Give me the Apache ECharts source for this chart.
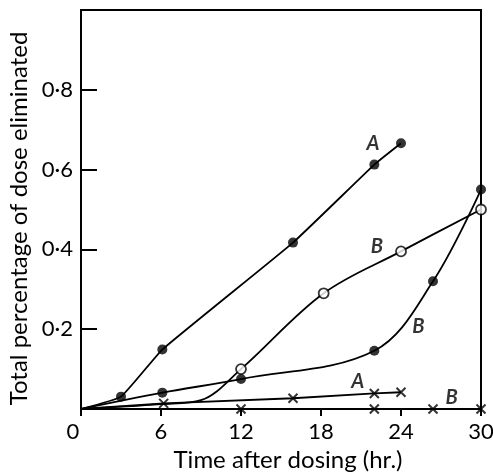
<!DOCTYPE html>
<html>
<head>
<meta charset="utf-8">
<script src="https://cdn.jsdelivr.net/npm/echarts@6.0.0/dist/echarts.min.js"></script>
<style>
	html, body { margin: 0; padding: 0; background: #fff; }
	#chart { width: 493px; height: 472px; }
</style>
</head>
<body>
<div id="chart"></div>
<script>
	// values (x = hours after dosing, y = fraction of dose)
	let xTicks = [0, 6, 12, 18, 24, 30];
	let yTicks = [0.2, 0.4, 0.6, 0.8];

	// curve A, filled circles
	let aDotsX = [3, 6.1, 15.9, 22, 24];
	let aDotsY = [0.031, 0.149, 0.417, 0.6125, 0.666];
	// curve B, open circles
	let bOpenX = [12, 18.2, 24, 30];
	let bOpenY = [0.10, 0.29, 0.395, 0.50];
	let bOpenLeadX = [0, 6, 9];			// unmarked start of the curve
	let bOpenLeadY = [0, 0.012, 0.022];
	// curve B, filled circles
	let bDotsX = [6.1, 12, 22, 26.4, 30];
	let bDotsY = [0.041, 0.075, 0.146, 0.32, 0.55];
	// curve A, crosses
	let aCrossX = [6.2, 15.9, 22, 24];
	let aCrossY = [0.014, 0.027, 0.039, 0.042];
	// curve B, crosses
	let bCrossX = [12, 22, 26.4, 30];
	let bCrossY = [0, 0, 0, 0];

	// curve letters, placed in data coordinates
	let labelText = ['A', 'B', 'B', 'A', 'B'];
	let labelX = [21.9, 22.2, 25.3, 20.75, 27.8];
	let labelY = [0.665, 0.406, 0.206, 0.068, 0.0275];

	let zip = function (pX, pY) {
		return pX.map(function (x, i) { return [x, pY[i]]; });
	};

	let font = 'Lato, "Open Sans", sans-serif';
	let crossPath = 'path://M0,0L10,10M10,0L0,10';

	let lineSeries = function (pData, pSmooth) {
		return {
			type: 'line', data: pData, symbol: 'none', smooth: pSmooth,
			lineStyle: { color: '#000', width: 1.8 }, z: 2, silent: true
		};
	};

	let markerSeries = function (pData, pSymbol, pSize, pItemStyle) {
		return {
			type: 'scatter', data: pData, symbol: pSymbol, symbolSize: pSize,
			itemStyle: pItemStyle, z: 3, silent: true
		};
	};

	let origin = [[0, 0]];
	let chart = echarts.init(document.getElementById('chart'), null, { renderer: 'canvas' });

	chart.setOption({
		animation: false,
		backgroundColor: '#fff',
		grid: {
			left: 81, right: 12, top: 10, bottom: 63, outerBoundsMode: 'none', containLabel: false,
			show: true, borderColor: '#000', borderWidth: 2
		},
		xAxis: {
			type: 'value', min: 0, max: 30, interval: 6,
			name: '{t|Time after dosing (hr.)}', nameLocation: 'middle', nameGap: 37,
			nameTextStyle: {
				fontFamily: font, fontSize: 24, color: '#000',
				rich: { t: { fontFamily: font, fontSize: 24, color: '#000', padding: [0, 0, 0, 14] } }
			},
			axisLine: { show: true, lineStyle: { color: '#000', width: 2 } },
			axisTick: { show: true, inside: false, length: 7, lineStyle: { color: '#000', width: 2 } },
			splitLine: { show: false },
			axisLabel: {
				margin: 12, fontFamily: font, fontSize: 22, color: '#000',
				formatter: function (v) { return xTicks.indexOf(v) === 0 ? '{o|0}' : String(v); },
				rich: { o: { fontFamily: font, fontSize: 22, color: '#000', padding: [0, 16, 0, 0] } }
			}
		},
		yAxis: {
			type: 'value', min: 0, max: 1, interval: 0.2,
			name: '{t|Total percentage of dose eliminated}', nameLocation: 'middle', nameGap: 46,
			nameTextStyle: {
				fontFamily: font, fontSize: 24, color: '#000',
				rich: { t: { fontFamily: font, fontSize: 24, color: '#000', padding: [0, 18, 0, 0] } }
			},
			axisLine: { show: true, lineStyle: { color: '#000', width: 2 } },
			axisTick: { show: true, inside: true, length: 16, lineStyle: { color: '#000', width: 2 } },
			splitLine: { show: false },
			axisLabel: {
				margin: 8, fontFamily: font, fontSize: 22, color: '#000',
				formatter: function (v) {
					let hit = yTicks.find(function (t) { return Math.abs(t - v) < 1e-6; });
					return hit === undefined ? '' : hit.toFixed(1).replace('.', '\u00b7');
				}
			}
		},
		series: [
			lineSeries(origin.concat(zip(aDotsX, aDotsY)), 0.12),
			lineSeries(zip(bOpenLeadX, bOpenLeadY).concat(zip(bOpenX, bOpenY)), 0.35),
			lineSeries(origin.concat(zip(bDotsX, bDotsY)), 0.35),
			lineSeries(origin.concat(zip(aCrossX, aCrossY)), 0),
			lineSeries(origin.concat(zip(bCrossX, bCrossY)), 0),
			markerSeries(zip(aDotsX, aDotsY), 'circle', 10, { color: '#000' }),
			markerSeries(zip(bDotsX, bDotsY), 'circle', 10, { color: '#000' }),
			markerSeries(zip(bOpenX, bOpenY), 'circle', 10, { color: '#fff', borderColor: '#000', borderWidth: 1.8 }),
			markerSeries(zip(aCrossX, aCrossY), crossPath, 9, { color: 'none', borderColor: '#000', borderWidth: 2 }),
			markerSeries(zip(bCrossX, bCrossY), crossPath, 9, { color: 'none', borderColor: '#000', borderWidth: 2 }),
			{
				type: 'scatter', silent: true, symbolSize: 1, z: 4,
				itemStyle: { color: 'rgba(0,0,0,0)' },
				data: labelText.map(function (t, i) { return { name: t, value: [labelX[i], labelY[i]] }; }),
				label: {
					show: true, position: 'inside', formatter: '{b}',
					fontFamily: font, fontSize: 20, fontStyle: 'italic', fontWeight: 'bold', color: '#000'
				}
			}
		]
	});
</script>
</body>
</html>
